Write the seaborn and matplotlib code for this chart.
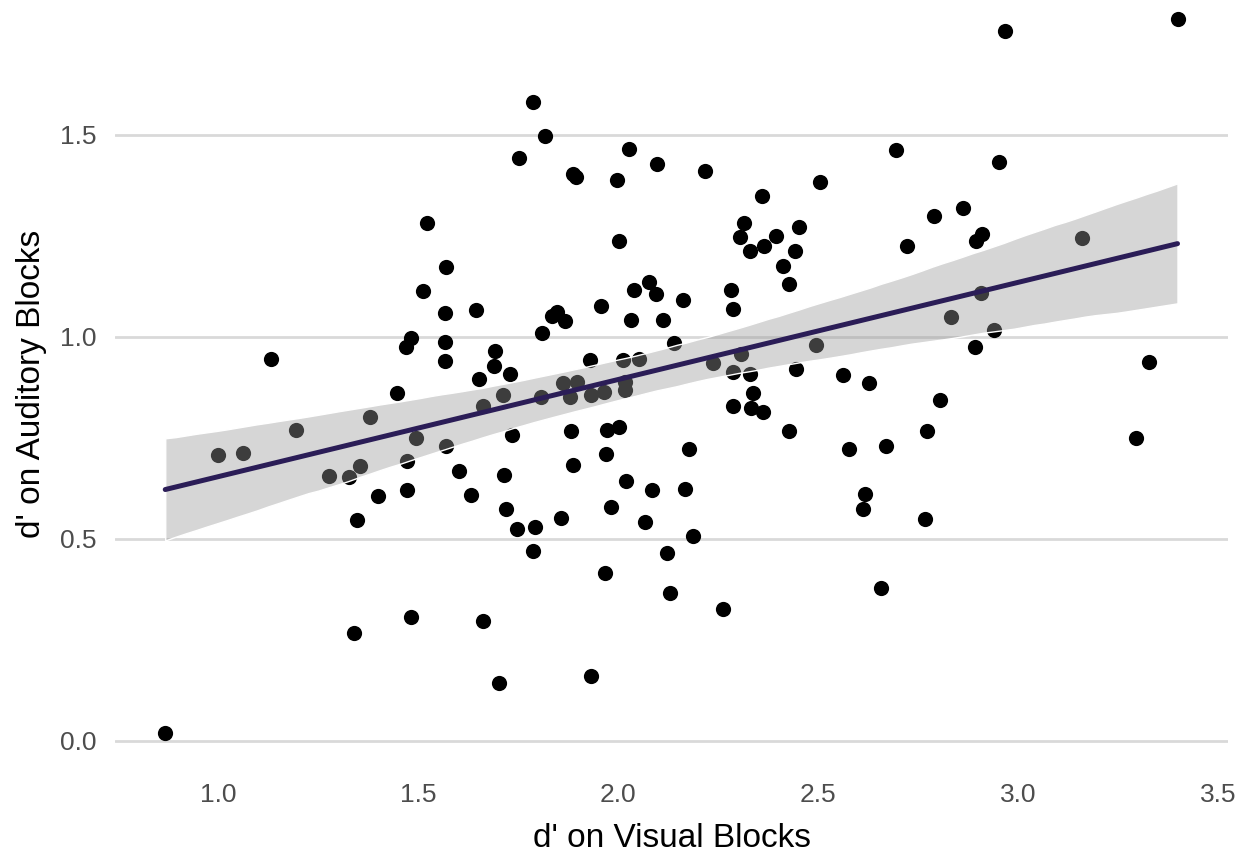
import numpy as np
import pandas as pd
import matplotlib
matplotlib.use("Agg")
import matplotlib.pyplot as plt
import seaborn as sns

# ===== Data =====
visual_d = [
    0.868, 1.001, 1.062, 1.133, 1.195, 1.278, 1.328, 1.355, 1.347, 1.341,
    1.380, 1.400, 1.448, 1.473, 1.473, 1.483, 1.470, 1.482, 1.495, 1.512,
    1.522, 1.566, 1.568, 1.568, 1.570, 1.570, 1.603, 1.633, 1.644, 1.651,
    1.662, 1.662, 1.691, 1.690, 1.701, 1.711, 1.715, 1.720, 1.730, 1.734,
    1.748, 1.751, 1.787, 1.787, 1.793, 1.807, 1.810, 1.818, 1.835, 1.848,
    1.868, 1.858, 1.863, 1.880, 1.883, 1.888, 1.888, 1.895, 1.897, 1.930,
    1.932, 1.933, 1.958, 1.965, 1.966, 1.970, 1.973, 1.983, 1.996, 2.003,
    2.003, 2.012, 2.018, 2.018, 2.020, 2.028, 2.033, 2.040, 2.053, 2.066,
    2.078, 2.085, 2.095, 2.098, 2.113, 2.123, 2.130, 2.140, 2.163, 2.166,
    2.178, 2.187, 2.218, 2.238, 2.263, 2.283, 2.286, 2.287, 2.287, 2.305,
    2.306, 2.314, 2.330, 2.330, 2.332, 2.338, 2.360, 2.362, 2.365, 2.395,
    2.413, 2.426, 2.426, 2.443, 2.445, 2.452, 2.495, 2.505, 2.563, 2.576,
    2.613, 2.616, 2.628, 2.658, 2.670, 2.695, 2.723, 2.768, 2.773, 2.790,
    2.805, 2.833, 2.861, 2.893, 2.895, 2.907, 2.910, 2.940, 2.951, 2.968,
    3.159, 3.294, 3.326, 3.398,
]
auditory_d = [
    0.019, 0.708, 0.712, 0.946, 0.770, 0.657, 0.653, 0.680, 0.547, 0.267,
    0.801, 0.607, 0.861, 0.694, 0.621, 0.306, 0.974, 0.997, 0.749, 1.114,
    1.283, 0.987, 0.941, 1.060, 1.174, 0.731, 0.669, 0.609, 1.067, 0.896,
    0.829, 0.298, 0.965, 0.929, 0.144, 0.856, 0.658, 0.573, 0.908, 0.757,
    0.525, 1.442, 1.582, 0.469, 0.530, 0.852, 1.009, 1.498, 1.052, 1.062,
    1.040, 0.551, 0.887, 0.851, 0.767, 0.682, 1.403, 1.396, 0.888, 0.943,
    0.857, 0.162, 1.077, 0.864, 0.415, 0.710, 0.770, 0.580, 1.389, 0.776,
    1.238, 0.943, 0.889, 0.869, 0.644, 1.465, 1.042, 1.116, 0.945, 0.543,
    1.137, 0.621, 1.106, 1.428, 1.042, 0.465, 0.367, 0.986, 1.092, 0.624,
    0.723, 0.508, 1.411, 0.935, 0.326, 1.116, 1.068, 0.913, 0.828, 1.248,
    0.959, 1.283, 1.213, 0.909, 0.825, 0.861, 1.349, 0.815, 1.225, 1.251,
    1.176, 1.132, 0.768, 1.213, 0.921, 1.273, 0.980, 1.384, 0.907, 0.723,
    0.574, 0.611, 0.886, 0.378, 0.730, 1.463, 1.226, 0.550, 0.766, 1.300,
    0.844, 1.049, 1.318, 0.974, 1.238, 1.108, 1.254, 1.016, 1.434, 1.758,
    1.244, 0.749, 0.939, 1.787,
]
x_ticks = [1.0, 1.5, 2.0, 2.5, 3.0, 3.5]
y_ticks = [0.0, 0.5, 1.0, 1.5]

df = pd.DataFrame({"visual": visual_d, "auditory": auditory_d})

# ===== Style =====
sns.set_theme(style="white")
plt.rcParams["font.family"] = ["Liberation Sans", "DejaVu Sans"]

fig = plt.figure(figsize=(12.53, 8.55), dpi=100)
ax = fig.add_axes([0.0918, 0.1018, 0.8885, 0.8982])

# points first, so the ribbon sits over them like ggplot
sns.scatterplot(data=df, x="visual", y="auditory", color="black",
                s=120, linewidth=0, ax=ax, zorder=1)

n_before = len(ax.collections)
sns.regplot(data=df, x="visual", y="auditory", scatter=False, ci=95,
            n_boot=2000, seed=3, color="#2b1d57",
            line_kws={"linewidth": 3.6, "zorder": 3}, ax=ax)
for coll in ax.collections[n_before:]:
    coll.set_facecolor((0.6, 0.6, 0.6, 0.4))
    coll.set_alpha(None)
    coll.set_zorder(2)

# ===== Axes =====
ax.set_xlim(0.7425, 3.525)
ax.set_ylim(-0.0668, 1.834)
ax.set_xticks(x_ticks)
ax.set_yticks(y_ticks)
ax.set_xticklabels([f"{t:.1f}" for t in x_ticks])
ax.set_yticklabels([f"{t:.1f}" for t in y_ticks])
ax.tick_params(length=0, labelsize=19, colors="#4d4d4d")
ax.tick_params(axis="x", pad=11)
ax.tick_params(axis="y", pad=13)

ax.grid(axis="y", color="#d9d9d9", linewidth=2.0)
ax.grid(axis="x", visible=False)
ax.set_axisbelow(True)
for spine in ax.spines.values():
    spine.set_visible(False)

ax.set_xlabel("d' on Visual Blocks", fontsize=24, color="black", labelpad=11)
ax.set_ylabel("d' on Auditory Blocks", fontsize=24, color="black", labelpad=10)

fig.savefig("out.png", dpi=100)
